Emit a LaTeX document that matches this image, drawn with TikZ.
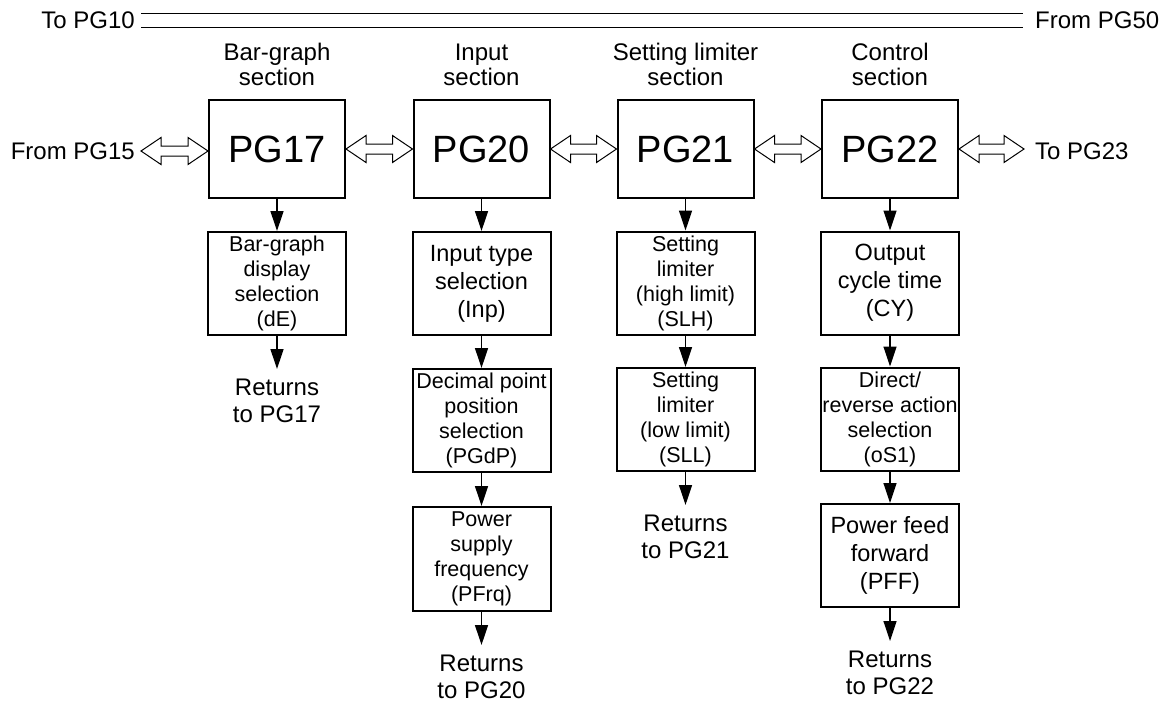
\documentclass[tikz,border=0pt]{standalone}
\usepackage{fontspec}
\setmainfont{Liberation Sans}
\usetikzlibrary{arrows.meta,positioning,calc}
\tikzset{
  mainbox/.style={draw, line width=2pt, minimum width=136pt, minimum height=98pt, inner sep=0pt, font=\fontsize{38}{40}\selectfont},
  subsmall/.style={draw, line width=2pt, minimum width=138pt, minimum height=103pt, inner sep=1pt, align=center, font=\fontsize{21.5}{25}\selectfont},
  subbig/.style={draw, line width=2pt, minimum width=138pt, minimum height=103pt, inner sep=1pt, align=center, font=\fontsize{23.5}{28}\selectfont},
  header/.style={align=center, inner sep=0pt, font=\fontsize{24}{25}\selectfont},
  lbl/.style={inner sep=0pt, font=\fontsize{24}{26}\selectfont},
  ret/.style={align=center, inner sep=0pt, font=\fontsize{24}{27}\selectfont},
  arr/.style={line width=1.3pt, -{Triangle[length=20pt,width=13pt]}},
  dbl/.style={draw, line width=1pt, fill=white, line join=miter},
  topline/.style={line width=1.2pt}
}
\newcommand\dblarrow[2]{%
  \path[dbl] let \p1=(#1), \p2=(#2) in
    (\x1,\y1) -- (\x1+20pt,\y1+13.5pt) -- (\x1+20pt,\y1+5pt) -- (\x2-20pt,\y1+5pt)
    -- (\x2-20pt,\y1+13.5pt) -- (\x2,\y1) -- (\x2-20pt,\y1-13.5pt) -- (\x2-20pt,\y1-5pt)
    -- (\x1+20pt,\y1-5pt) -- (\x1+20pt,\y1-13.5pt) -- cycle;}
\begin{document}
\begin{tikzpicture}[x=1pt,y=-1pt]
\useasboundingbox (0,0) rectangle (1169,702);

% top line
\node[lbl, anchor=east] (t10) at (135,20.5) {To PG10};
\node[lbl, anchor=west] (f50) at (1035,20.5) {From PG50};
\draw[topline] ([shift={(6pt,7pt)}]t10.east) -- ([shift={(-12pt,7pt)}]f50.west);
\draw[topline] ([shift={(6pt,-7pt)}]t10.east) -- ([shift={(-12pt,-7pt)}]f50.west);

% headers
\node[header] (h1) at (277,64) {\vphantom{Bgh}Bar-graph\\section};
\node[header] (h2) at (481.5,64) {\vphantom{Bgh}Input\\section};
\node[header] (h3) at (685.5,64) {\vphantom{Bgh}Setting limiter\\section};
\node[header] (h4) at (890,64) {\vphantom{Bgh}Control\\section};

% main boxes
\node[mainbox] (pg17) at (277,149) {PG17};
\node[mainbox] (pg20) at (481.5,149) {PG20};
\node[mainbox] (pg21) at (685.5,149) {PG21};
\node[mainbox] (pg22) at (890,149) {PG22};

\node[lbl, anchor=east] (f15) at (135,151) {From PG15};
\node[lbl, anchor=west] (t23) at (1035,151) {To PG23};

\dblarrow{[xshift=6pt]f15.east}{pg17.west}
\dblarrow{pg17.east}{pg20.west}
\dblarrow{pg20.east}{pg21.west}
\dblarrow{pg21.east}{pg22.west}
\dblarrow{pg22.east}{[xshift=-11pt]t23.west}

% column 1
\node[subsmall] (s1) at (277,283.5) {Bar-graph\\display\\selection\\(dE)};
\node[ret, below=43pt of s1.south] (r1) {Returns\\to PG17};
\draw[arr] (pg17.south) -- (s1.north);
\draw[arr, shorten >=10pt] (s1.south) -- (r1.north);

% column 2
\node[subbig] (s21) at (481.5,283.5) {Input type\\selection\\(Inp)};
\node[subsmall] (s22) at (481.5,420.5) {Decimal point\\position\\selection\\(PGdP)};
\node[subsmall, minimum height=104pt] (s23) at (481.5,559) {Power\\supply\\frequency\\(PFrq)};
\node[ret, below=43pt of s23.south] (r2) {Returns\\to PG20};
\draw[arr] (pg20.south) -- (s21.north);
\draw[arr] (s21.south) -- (s22.north);
\draw[arr] (s22.south) -- (s23.north);
\draw[arr, shorten >=10pt] (s23.south) -- (r2.north);

% column 3
\node[subsmall] (s31) at (685.5,283) {Setting\\limiter\\(high limit)\\(SLH)};
\node[subsmall] (s32) at (685.5,419.5) {Setting\\limiter\\(low limit)\\(SLL)};
\node[ret, below=43pt of s32.south] (r3) {Returns\\to PG21};
\draw[arr] (pg21.south) -- (s31.north);
\draw[arr] (s31.south) -- (s32.north);
\draw[arr, shorten >=10pt] (s32.south) -- (r3.north);

% column 4
\node[subbig] (s41) at (890,283) {Output\\cycle time\\(CY)};
\node[subsmall] (s42) at (890,419) {Direct/\\reverse action\\selection\\(oS1)};
\node[subbig] (s43) at (890,555.5) {Power feed\\forward\\(PFF)};
\node[ret, below=43pt of s43.south] (r4) {Returns\\to PG22};
\draw[arr] (pg22.south) -- (s41.north);
\draw[arr] (s41.south) -- (s42.north);
\draw[arr] (s42.south) -- (s43.north);
\draw[arr, shorten >=10pt] (s43.south) -- (r4.north);
\end{tikzpicture}
\end{document}
